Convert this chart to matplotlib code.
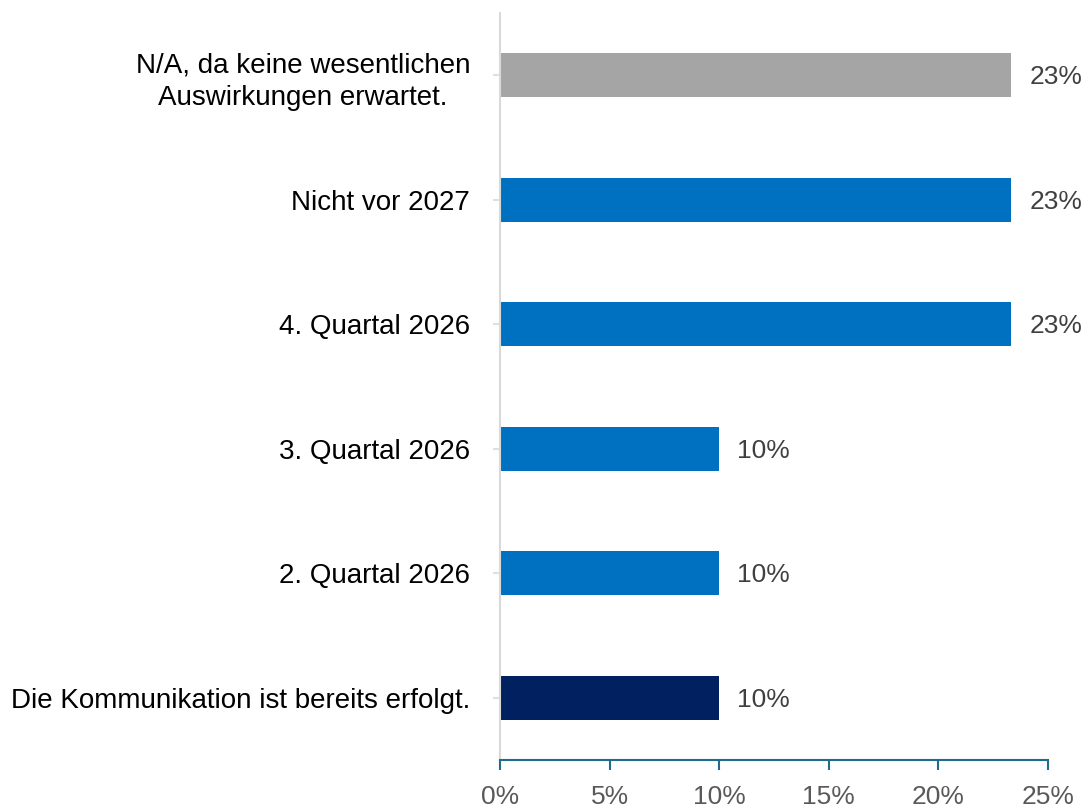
import matplotlib
matplotlib.use("Agg")
import matplotlib.pyplot as plt
from matplotlib.ticker import FuncFormatter
from matplotlib.transforms import ScaledTranslation

plt.rcParams['font.family'] = ['Liberation Sans', 'DejaVu Sans']

categories = [
    "Die Kommunikation ist bereits erfolgt.",
    "2. Quartal 2026",
    "3. Quartal 2026",
    "4. Quartal 2026",
    "Nicht vor 2027",
    "N/A, da keine wesentlichen\nAuswirkungen erwartet.",
]
values = [10.0, 10.0, 10.0, 23.33, 23.33, 23.33]
value_labels = ["10%", "10%", "10%", "23%", "23%", "23%"]
colors = ["#002060", "#0070C0", "#0070C0", "#0070C0", "#0070C0", "#A5A5A5"]
xticks = [0, 5, 10, 15, 20, 25]

FS = 20
FSN = 19

fig = plt.figure(figsize=(10.9, 8.08), dpi=100)
ax = fig.add_axes([500/1090, 1-760/808, 548/1090, 747/808])

y = list(range(len(categories)))
ax.barh(y, values, height=0.355, color=colors)
for yi, v, lab in zip(y, values, value_labels):
    ax.annotate(lab, (v, yi), xytext=(13, -1.5), textcoords="offset points",
                ha="left", va="center", fontsize=FSN, color="#404040")

ax.set_xlim(0, 25)
ax.set_ylim(-0.5, 5.5)
ax.set_xticks(xticks)
ax.xaxis.set_major_formatter(FuncFormatter(lambda v, p: f"{int(v)}%"))
ax.set_yticks(y)
ax.set_yticklabels(categories, ha="center", fontsize=FS, color="black",
                   linespacing=1.35)

for s in ["top", "right"]:
    ax.spines[s].set_visible(False)
ax.spines["left"].set_color("#D9D9D9")
ax.spines["left"].set_linewidth(1.5)
ax.spines["bottom"].set_color("#1F6C8F")
ax.spines["bottom"].set_linewidth(1.5)

ax.tick_params(axis="x", direction="out", length=7, width=1.5, color="#1F6C8F",
               labelsize=FSN, labelcolor="#595959", pad=11)
ax.tick_params(axis="y", direction="out", length=5, width=1.2, color="#D9D9D9",
               pad=0)

fig.canvas.draw()
renderer = fig.canvas.get_renderer()
for lab in ax.get_yticklabels():
    bb = lab.get_window_extent(renderer)
    w = bb.width
    cx_target = 470 - w/2
    cur_cx = (bb.x0 + bb.x1) / 2
    dx = (cx_target - cur_cx) / 100.0
    lab.set_transform(lab.get_transform() + ScaledTranslation(dx, 0, fig.dpi_scale_trans))

fig.savefig("out.png", dpi=100)
